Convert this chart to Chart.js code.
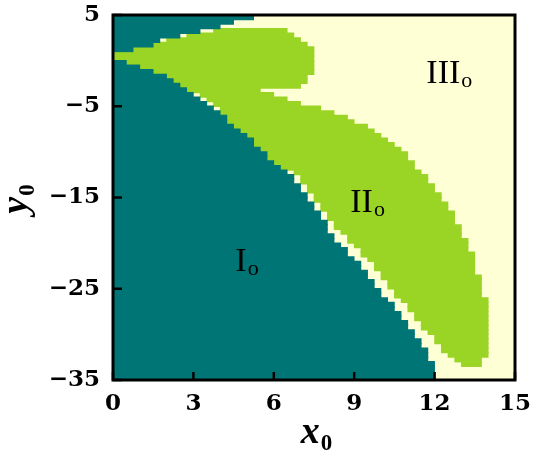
<!DOCTYPE html>
<html>
  <head>
    <title>Regions I, II, III in the (x0, y0) plane</title>
    <script src="https://cdn.jsdelivr.net/npm/chart.js"></script>
    <style>
      body { margin: 0; background: #fff; }
    </style>
  </head>
  <body>
    <canvas id="myChart" width="534" height="453"></canvas>
    <script>
      // one row of the map every 0.5 in y0
      const rowY = [
        4.75, 4.25, 3.75, 3.25, 2.75, 2.25, 1.75, 1.25, 0.75, 0.25,
        -0.25, -0.75, -1.25, -1.75, -2.25, -2.75, -3.25, -3.75, -4.25, -4.75,
        -5.25, -5.75, -6.25, -6.75, -7.25, -7.75, -8.25, -8.75, -9.25, -9.75,
        -10.25, -10.75, -11.25, -11.75, -12.25, -12.75, -13.25, -13.75, -14.25, -14.75,
        -15.25, -15.75, -16.25, -16.75, -17.25, -17.75, -18.25, -18.75, -19.25, -19.75,
        -20.25, -20.75, -21.25, -21.75, -22.25, -22.75, -23.25, -23.75, -24.25, -24.75,
        -25.25, -25.75, -26.25, -26.75, -27.25, -27.75, -28.25, -28.75, -29.25, -29.75,
        -30.25, -30.75, -31.25, -31.75, -32.25, -32.75, -33.25, -33.75, -34.25, -34.75
      ];
      // region I_o : from x0 = 0 to this value
      const regionIEnd = [
        5.25, 4.5, 4.0, 3.25, 2.5, 1.75, 1.5, 0.75, 0, 0,
        0.5, 1.0, 1.5, 2.0, 2.25, 2.5, 2.75, 3.0, 3.25, 3.5,
        3.75, 4.0, 4.25, 4.25, 4.5, 4.75, 5.0, 5.25, 5.25, 5.5,
        5.75, 5.75, 6.0, 6.25, 6.5, 6.75, 6.75, 7.0, 7.0, 7.25,
        7.25, 7.5, 7.5, 7.75, 7.75, 8.0, 8.0, 8.0, 8.25, 8.25,
        8.5, 8.75, 8.75, 9.0, 9.25, 9.25, 9.5, 9.5, 9.75, 9.75,
        10.0, 10.0, 10.25, 10.5, 10.5, 10.75, 10.75, 11.0, 11.0, 11.25,
        11.25, 11.5, 11.5, 11.75, 11.75, 11.75, 12.0, 12.0, 12.0, 12.0
      ];
      // region II_o : from start to end (null = none in that row)
      const regionIIStart = [
        null, null, null, 3.75, 2.75, 2.0, 1.5, 0.75, 0, 0,
        0.5, 1.0, 1.5, 2.0, 2.25, 2.5, 2.75, 3.25, 3.5, 3.75,
        4.0, 4.0, 4.25, 4.25, 4.5, 4.75, 5.0, 5.25, 5.25, 5.5,
        5.75, 5.75, 6.0, 6.25, 6.75, 7.0, 7.0, 7.25, 7.25, 7.5,
        7.5, 7.75, 7.75, 8.0, 8.0, 8.25, 8.25, 8.5, 8.75, 8.75,
        9.0, 9.25, 9.25, 9.5, 9.75, 9.75, 10.0, 10.0, 10.25, 10.25,
        10.5, 10.5, 10.75, 11.0, 11.0, 11.25, 11.25, 11.5, 11.5, 11.75,
        12.0, 12.0, 12.25, 12.25, 12.5, 12.75, 13.0, null, null, null
      ];
      const regionIIEnd = [
        null, null, null, 6.5, 6.75, 7.0, 7.25, 7.5, 7.5, 7.5,
        7.5, 7.5, 7.5, 7.25, 7.25, 7.0, 5.5, 6.0, 6.5, 7.0,
        7.75, 8.25, 8.75, 9.0, 9.5, 9.75, 10.0, 10.25, 10.5, 10.75,
        11.0, 11.0, 11.25, 11.25, 11.5, 11.75, 11.75, 12.0, 12.0, 12.25,
        12.25, 12.5, 12.5, 12.75, 12.75, 12.75, 13.0, 13.0, 13.0, 13.25,
        13.25, 13.25, 13.5, 13.5, 13.5, 13.5, 13.5, 13.75, 13.75, 13.75,
        13.75, 13.75, 14.0, 14.0, 14.0, 14.0, 14.0, 14.0, 14.0, 14.0,
        14.0, 14.0, 14.0, 14.0, 14.0, 13.75, 13.75, null, null, null
      ];
      const xTickValues = [0, 3, 6, 9, 12, 15];
      const yTickValues = [5, -5, -15, -25, -35];

      const TEAL = "#007575";
      const GREEN = "#9ad425";
      const CREAM = "#ffffd5";

      const tealBars = rowY.map((y, i) => ({ x: [0, regionIEnd[i]], y: y }))
        .filter((p) => p.x[1] > 0);
      const greenBars = [];
      rowY.forEach((y, i) => {
        if (regionIIStart[i] !== null) {
          greenBars.push({ x: [regionIIStart[i], regionIIEnd[i]], y: y });
        }
      });

      const serif = "'Liberation Serif', 'Times New Roman', serif";
      const tickFamily = "'DejaVu Serif', serif";

      function minus(v) {
        return v < 0 ? "\u2212" + Math.abs(v) : String(v);
      }

      const framePlugin = {
        id: "frame",
        beforeDatasetsDraw(chart) {
          const a = chart.chartArea;
          const ctx = chart.ctx;
          ctx.save();
          ctx.fillStyle = CREAM;
          ctx.fillRect(a.left, a.top, a.right - a.left, a.bottom - a.top);
          ctx.restore();
        },
        afterDraw(chart) {
          const a = chart.chartArea;
          const ctx = chart.ctx;
          const xs = chart.scales.x;
          const ys = chart.scales.y;
          ctx.save();

          // region labels
          ctx.fillStyle = "#000";
          ctx.textBaseline = "alphabetic";
          const marks = [
            { t: "I", x: 5.0, y: -23.0 },
            { t: "II", x: 9.5, y: -16.6 },
            { t: "III", x: 12.55, y: -2.4 },
          ];
          marks.forEach((m) => {
            ctx.font = "34px " + serif;
            const w1 = ctx.measureText(m.t).width;
            ctx.font = "22px " + serif;
            const w2 = ctx.measureText("o").width;
            const cx = xs.getPixelForValue(m.x);
            const by = ys.getPixelForValue(m.y);
            const x0 = cx - (w1 + w2 + 1) / 2;
            ctx.font = "34px " + serif;
            ctx.fillText(m.t, x0, by);
            ctx.font = "22px " + serif;
            ctx.fillText("o", x0 + w1 + 1, by + 4);
          });

          // inner ticks
          ctx.strokeStyle = "#000";
          ctx.lineWidth = 2.5;
          xTickValues.forEach((v) => {
            const px = xs.getPixelForValue(v);
            ctx.beginPath();
            ctx.moveTo(px, a.bottom);
            ctx.lineTo(px, a.bottom - 8);
            ctx.stroke();
          });
          yTickValues.forEach((v) => {
            const py = ys.getPixelForValue(v);
            ctx.beginPath();
            ctx.moveTo(a.left, py);
            ctx.lineTo(a.left + 9, py);
            ctx.stroke();
          });

          // frame
          ctx.lineWidth = 3;
          ctx.strokeRect(a.left, a.top, a.right - a.left, a.bottom - a.top);

          // axis titles
          ctx.font = "italic bold 38px " + serif;
          const wx = ctx.measureText("x").width;
          ctx.font = "bold 23px " + serif;
          const w0 = ctx.measureText("0").width;
          const tx = (a.left + a.right) / 2 - (wx + w0) / 2 + 2;
          ctx.font = "italic bold 38px " + serif;
          ctx.fillText("x", tx, 443);
          ctx.font = "bold 23px " + serif;
          ctx.fillText("0", tx + wx + 1, 450);

          ctx.translate(27, (a.top + a.bottom) / 2 + 2);
          ctx.rotate(-Math.PI / 2);
          ctx.font = "italic bold 38px " + serif;
          const wy = ctx.measureText("y").width;
          ctx.fillText("y", -(wy + w0) / 2, 0);
          ctx.font = "bold 23px " + serif;
          ctx.fillText("0", -(wy + w0) / 2 + wy + 1, 7);
          ctx.restore();
        },
      };

      const tickFont = { family: tickFamily, size: 23, weight: "bold" };

      const config = {
        type: "bar",
        data: {
          datasets: [
            {
              label: "I",
              data: tealBars,
              backgroundColor: TEAL,
              borderWidth: 0,
              barThickness: 5.2,
              grouped: false,
            },
            {
              label: "II",
              data: greenBars,
              backgroundColor: GREEN,
              borderWidth: 0,
              barThickness: 5.2,
              grouped: false,
            },
          ],
        },
        options: {
          indexAxis: "y",
          responsive: false,
          animation: false,
          devicePixelRatio: 1,
          layout: { padding: { top: 15, right: 19, left: 0, bottom: 0 } },
          plugins: {
            legend: { display: false },
            tooltip: { enabled: false },
          },
          scales: {
            x: {
              type: "linear",
              position: "bottom",
              min: 0,
              max: 15,
              grid: { display: false, drawTicks: false },
              border: { display: false },
              afterBuildTicks: (s) => {
                s.ticks = xTickValues.map((v) => ({ value: v }));
              },
              afterFit: (s) => {
                s.height = 73;
                s.paddingLeft = 0;
                s.paddingRight = 0;
              },
              ticks: {
                color: "#000",
                font: tickFont,
                padding: 10,
                maxRotation: 0,
                callback: (v) => minus(v),
              },
            },
            y: {
              type: "linear",
              min: -35,
              max: 5,
              offset: false,
              grid: { display: false, drawTicks: false, offset: false },
              border: { display: false },
              afterBuildTicks: (s) => {
                s.ticks = yTickValues.map((v) => ({ value: v }));
              },
              afterFit: (s) => {
                s.width = 113;
                s.paddingTop = 0;
                s.paddingBottom = 0;
              },
              ticks: {
                color: "#000",
                font: tickFont,
                padding: 13,
                callback: (v) => minus(v),
              },
            },
          },
        },
        plugins: [framePlugin],
      };

      var myChart = new Chart(document.getElementById("myChart"), config);
    </script>
  </body>
</html>
